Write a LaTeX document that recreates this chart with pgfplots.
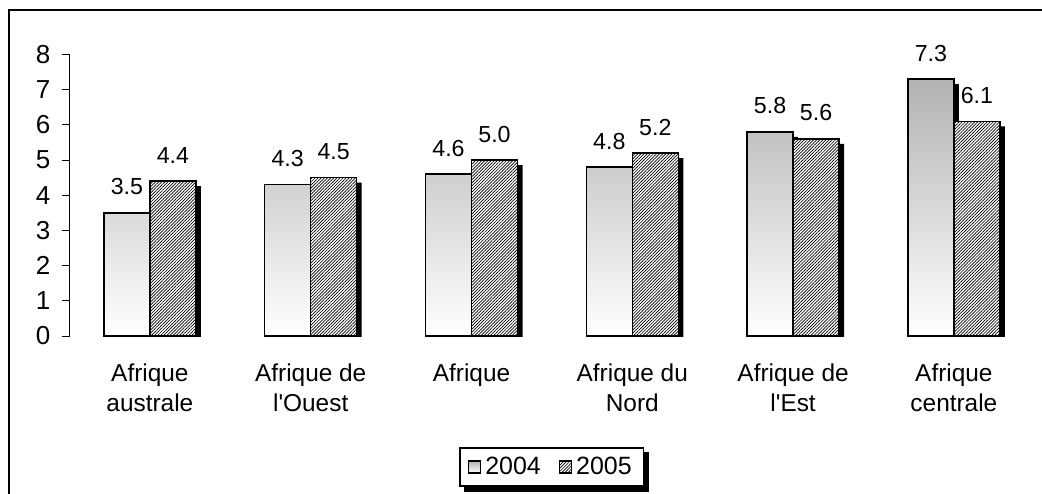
\documentclass[border=0pt]{standalone}
\usepackage{fontspec}
\setmainfont{Liberation Sans}
\usepackage{pgfplots}
\pgfplotsset{compat=1.18}
\usetikzlibrary{patterns.meta}
\pgfkeys{/pgf/number format/assume math mode=true}
\newcommand{\xf}{\fontsize{12.2}{15}\selectfont}
\newcommand{\yf}{\fontsize{13}{15}\selectfont}
\newcommand{\df}{\fontsize{11.6}{13}\selectfont}
\newcommand{\lf}{\fontsize{12.5}{14}\selectfont}
\tikzset{
  s2004/.style={draw=black, line width=0.75pt, top color=black!30, bottom color=white},
  s2005/.style={draw=black, line width=0.75pt, preaction={fill=white},
     pattern={Lines[angle=45,distance=1.1pt,line width=0.34pt]}, pattern color=black},
}
\pgfplotsset{
  labels/.style={nodes near coords, nodes near coords style={font=\df, inner sep=0pt, yshift=8.5pt, /pgf/number format/.cd, fixed, fixed zerofill, precision=1}},
  shadow/.style={fill=black, draw=none, yshift=-2.5pt, forget plot},
}
\begin{document}
\begin{tikzpicture}
\useasboundingbox (0,0) rectangle (521pt,-246.5pt);
\draw[line width=0.75pt] (4.5pt,-5pt) rectangle (600pt,-300pt);
\begin{axis}[
  at={(34.75pt,-168pt)}, anchor=south west,
  scale only axis, width=482.4pt, height=140.75pt,
  ybar, bar width=23pt,
  xmin=-0.5, xmax=5.5, ymin=0, ymax=8,
  xtick={0,...,5},
  xticklabels={{Afrique\\australe},{Afrique de\\l\textquotesingle Ouest},{Afrique},{Afrique du\\Nord},{Afrique de\\l\textquotesingle Est},{Afrique\\centrale}},
  ytick={0,...,8},
  axis lines*=left,
  x axis line style={draw=none},
  y axis line style={line width=0.5pt, -},
  tick align=outside,
  major tick length=4pt,
  ytick style={line width=0.5pt, black},
  xtick style={draw=none},
  xticklabel style={font=\xf, align=center, yshift=-6.5pt},
  yticklabel style={font=\yf, xshift=-2pt},
  legend columns=2,
  legend style={at={(0.5,-0.4654)}, anchor=center, draw=black, line width=0.75pt, fill=white,
     font=\lf, inner xsep=4pt, inner ysep=2.5pt, name=leg,
     /tikz/every even column/.append style={column sep=7pt}},
  legend cell align=left,
]
\addlegendimage{legend image code/.code={\draw[s2004, line width=0.6pt] (0pt,-3pt) rectangle (6pt,3pt);}}
\addlegendentry{2004}
\addlegendimage{legend image code/.code={\draw[s2005, line width=0.6pt] (0pt,-3pt) rectangle (6pt,3pt);}}
\addlegendentry{2005}
\addplot[shadow, bar shift=-9pt] coordinates {(0,3.5) (1,4.3) (2,4.6) (3,4.8) (4,5.8) (5,7.3)};
\addplot[s2004, bar shift=-11.5pt, labels, forget plot] coordinates {(0,3.5) (1,4.3) (2,4.6) (3,4.8) (4,5.8) (5,7.3)};
\addplot[shadow, bar shift=14pt] coordinates {(0,4.4) (1,4.5) (2,5.0) (3,5.2) (4,5.6) (5,6.1)};
\addplot[s2005, bar shift=11.5pt, labels, forget plot] coordinates {(0,4.4) (1,4.5) (2,5.0) (3,5.2) (4,5.6) (5,6.1)};
\end{axis}
\fill[black] ([xshift=2.5pt,yshift=-2.5pt]leg.south west) rectangle ([xshift=2.5pt]leg.south east);
\fill[black] ([yshift=-2.5pt]leg.north east) rectangle ([xshift=2.5pt,yshift=-2.5pt]leg.south east);
\end{tikzpicture}
\end{document}
